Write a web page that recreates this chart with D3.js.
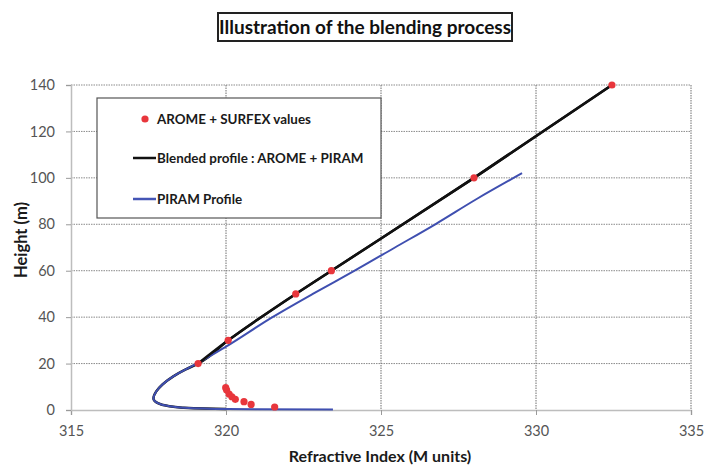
<!DOCTYPE html>
<html><head><meta charset="utf-8">
<script src="https://cdn.jsdelivr.net/npm/d3@7"></script>
<style>
html,body{margin:0;padding:0;background:#fff;}
svg{display:block;font-family:Lato,"Open Sans",sans-serif;}
</style></head>
<body>
<svg id="chart" width="704" height="468"></svg>
<script>
// ---- data ----
const xTicks = [315, 320, 325, 330, 335];
const yTicks = [0, 20, 40, 60, 80, 100, 120, 140];
const aromeX = [332.45, 328.0, 323.4, 322.25, 320.07, 319.1, 319.99, 320.02, 320.1, 320.19, 320.3, 320.58, 320.81, 321.57];
const aromeY = [140, 100, 60, 50, 30, 20, 9.6, 8.6, 6.9, 5.7, 4.6, 3.6, 2.4, 1.3];
const blendedX = [332.45, 328.0, 323.4, 322.25, 320.07, 319.1, 318.7, 318.3, 317.95, 317.75, 317.66, 317.8, 318.1, 318.6, 319.3, 320.0];
const blendedY = [140, 100, 60, 50, 30, 20, 17.5, 14.5, 11, 8, 5, 3.0, 1.8, 1.0, 0.6, 0.4];
const piramX = [323.45, 321.0, 320.0, 319.3, 318.6, 318.1, 317.8, 317.66, 317.75, 317.95, 318.3, 318.7, 319.1, 320.0, 321.5, 322.8, 324.15, 325.45, 326.75, 328.1, 329.55];
const piramY = [0.2, 0.3, 0.4, 0.6, 1.0, 1.8, 3.0, 5, 8, 11, 14.5, 17.5, 20.3, 27.3, 40, 50, 60, 70, 80, 91, 102];
const legendLabels = ["AROME + SURFEX values", "Blended profile : AROME + PIRAM", "PIRAM Profile"];
const titleText = "Illustration of the blending process";
const xTitle = "Refractive Index (M units)";
const yTitle = "Height (m)";

// ---- layout ----
const svg = d3.select("#chart");
const L = 71, R = 691, T = 85, B = 410;
const x = d3.scaleLinear().domain([315, 335]).range([L, R]);
const y = d3.scaleLinear().domain([0, 140]).range([B, T]);

// gridlines
svg.append("g").selectAll("line").data(yTicks.filter(d => d > 0)).join("line")
  .attr("x1", L).attr("x2", R).attr("y1", d => y(d)).attr("y2", d => y(d))
  .attr("stroke", "#8a8a8a").attr("stroke-width", 1).attr("stroke-dasharray", "1.5,1");
svg.append("g").selectAll("line").data(xTicks.filter(d => d > 315)).join("line")
  .attr("y1", T).attr("y2", B).attr("x1", d => x(d)).attr("x2", d => x(d))
  .attr("stroke", "#6e6e6e").attr("stroke-width", 1).attr("stroke-dasharray", "1.5,1");

// axes
const xAxis = svg.append("g").attr("transform", `translate(0,${B})`)
  .call(d3.axisBottom(x).tickValues(xTicks).tickSize(5).tickPadding(11));
const yAxis = svg.append("g").attr("transform", `translate(${L},0)`)
  .call(d3.axisLeft(y).tickValues(yTicks).tickSize(5).tickPadding(11));
[xAxis, yAxis].forEach(a => {
  a.select(".domain").attr("stroke", "#bdbdbd").attr("stroke-width", 1.5);
  a.selectAll(".tick line").attr("stroke", "#9a9a9a");
  a.selectAll(".tick text").attr("fill", "#555").style("font-size", "14.5px").style("font-family", "Lato, sans-serif");
});

// lines
const line = d3.line().x(d => x(d[0])).y(d => y(d[1])).curve(d3.curveMonotoneY);
const blended = blendedX.map((v, i) => [v, blendedY[i]]);
const piram = piramX.map((v, i) => [v, piramY[i]]);
svg.append("path").datum(blended).attr("d", line).attr("fill", "none")
  .attr("stroke", "#111").attr("stroke-width", 2.5);
svg.append("path").datum(piram).attr("d", line).attr("fill", "none")
  .attr("stroke", "#3f4fb0").attr("stroke-width", 2);
svg.append("path").datum(blended.slice(0, 6)).attr("d", line).attr("fill", "none")
  .attr("stroke", "#111").attr("stroke-width", 2.5);

// points
svg.append("g").selectAll("circle").data(aromeX.map((v, i) => [v, aromeY[i]])).join("circle")
  .attr("cx", d => x(d[0])).attr("cy", d => y(d[1])).attr("r", 3.6)
  .attr("fill", "#e8363c");

// legend
const lg = svg.append("g");
lg.append("rect").attr("x", 97).attr("y", 98).attr("width", 284).attr("height", 120)
  .attr("fill", "#fff").attr("stroke", "#555").attr("stroke-width", 1.2);
const ly = [119, 158, 199];
lg.append("circle").attr("cx", 145).attr("cy", ly[0]).attr("r", 3.6).attr("fill", "#e8363c");
lg.append("line").attr("x1", 133).attr("x2", 156).attr("y1", ly[1]).attr("y2", ly[1]).attr("stroke", "#111").attr("stroke-width", 2.5);
lg.append("line").attr("x1", 133).attr("x2", 156).attr("y1", ly[2]).attr("y2", ly[2]).attr("stroke", "#4455b5").attr("stroke-width", 2.5);
lg.selectAll("text").data(legendLabels).join("text")
  .attr("x", 157).attr("y", (d, i) => ly[i]).attr("dy", "0.35em")
  .style("font-size", "13.4px").style("font-weight", "bold").attr("fill", "#1a1a1a")
  .text(d => d);

// title
svg.append("rect").attr("x", 218).attr("y", 13).attr("width", 294).attr("height", 28)
  .attr("fill", "#fff").attr("stroke", "#222").attr("stroke-width", 2);
svg.append("text").attr("x", 365).attr("y", 27).attr("text-anchor", "middle")
  .attr("dy", "0.35em").style("font-size", "19px").style("font-weight", "bold").attr("fill", "#111")
  .text(titleText);

// axis titles
svg.append("text").attr("x", 380).attr("y", 462).attr("text-anchor", "middle")
  .style("font-size", "16px").style("font-weight", "bold").attr("fill", "#1a1a1a").text(xTitle);
svg.append("text").attr("transform", "translate(27,240) rotate(-90)").attr("text-anchor", "middle")
  .style("font-size", "16.5px").style("font-weight", "bold").attr("fill", "#1a1a1a").text(yTitle);
</script>
</body></html>
